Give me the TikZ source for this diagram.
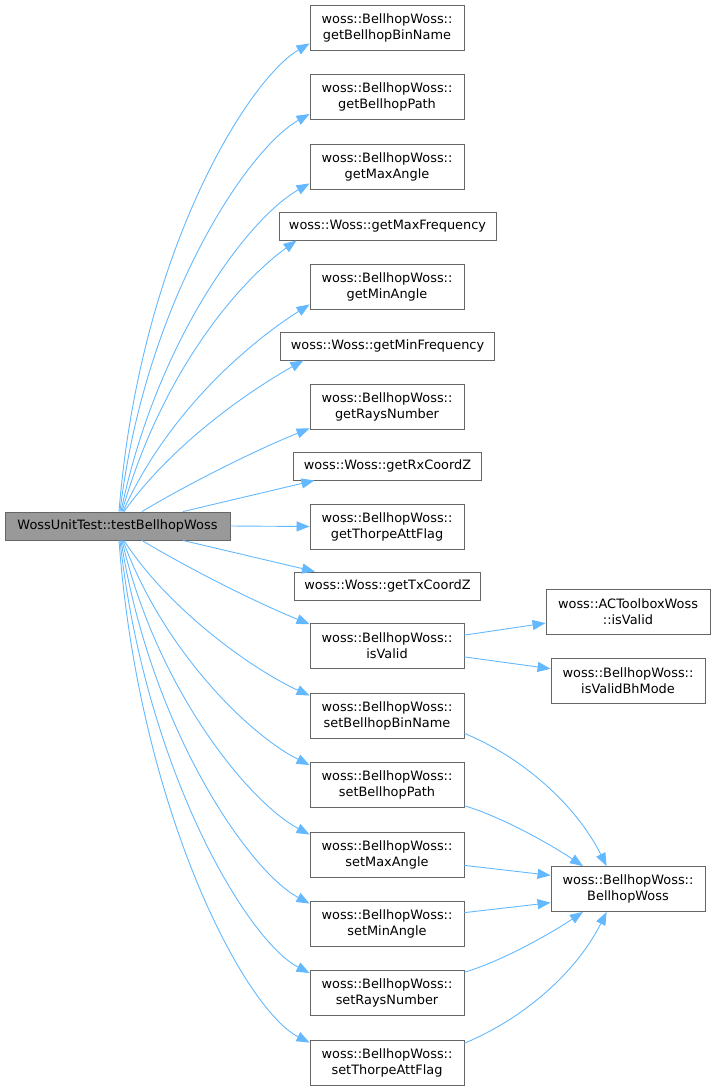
\documentclass[tikz,border=0pt]{standalone}
\usepackage{fontspec}
\setmainfont{DejaVu Sans}
\usepackage{tikz}
\usetikzlibrary{arrows.meta,calc}
\definecolor{edgeblue}{HTML}{63B8FF}
\definecolor{boxline}{HTML}{666666}
\definecolor{rootfill}{HTML}{999999}
\newcommand{\boxfont}{\fontsize{12.9pt}{16pt}\selectfont}
\tikzset{
  fn/.style={draw=boxline,fill=white,line width=0.9pt,align=center,font=\boxfont,
             inner xsep=10pt,inner ysep=2pt,minimum width=154pt,minimum height=45pt},
  fnone/.style={fn,minimum width=0pt,minimum height=28pt},
  rootfn/.style={fnone,fill=rootfill,minimum width=225pt},
  call/.style={draw=edgeblue,line width=0.9pt,-{Triangle[length=13pt,width=10pt]}}
}

\begin{document}
\begin{tikzpicture}[x=1pt,y=-1pt]
\useasboundingbox (0,0) rectangle (716,1090);

% caller
\node[rootfn] (root) at (117.5,526) {WossUnitTest::testBellhopWoss};

% callees
\node[fn] (n1) at (387,27.5) {woss::BellhopWoss::\\getBellhopBinName};
\node[fn] (n2) at (387,97) {woss::BellhopWoss::\\getBellhopPath};
\node[fn] (n3) at (387,166.5) {woss::BellhopWoss::\\getMaxAngle};
\node[fnone] (n4) at (387.5,226) {woss::Woss::getMaxFrequency};
\node[fn] (n5) at (387,286.5) {woss::BellhopWoss::\\getMinAngle};
\node[fnone] (n6) at (387.5,346) {woss::Woss::getMinFrequency};
\node[fn] (n7) at (387,406.5) {woss::BellhopWoss::\\getRaysNumber};
\node[fnone] (n8) at (387.5,466) {woss::Woss::getRxCoordZ};
\node[fn] (n9) at (387,526.5) {woss::BellhopWoss::\\getThorpeAttFlag};
\node[fnone] (n10) at (387.5,586) {woss::Woss::getTxCoordZ};
\node[fn] (n11) at (387,646) {woss::BellhopWoss::\\isValid};
\node[fn] (n12) at (387,715.5) {woss::BellhopWoss::\\setBellhopBinName};
\node[fn] (n13) at (387,785) {woss::BellhopWoss::\\setBellhopPath};
\node[fn] (n14) at (387,854.5) {woss::BellhopWoss::\\setMaxAngle};
\node[fn] (n15) at (387,923.5) {woss::BellhopWoss::\\setMinAngle};
\node[fn] (n16) at (387,993) {woss::BellhopWoss::\\setRaysNumber};
\node[fn] (n17) at (387,1062.5) {woss::BellhopWoss::\\setThorpeAttFlag};

% third level
\node[fn,minimum width=164pt] (ac) at (628,611.5) {woss::ACToolboxWoss\\::isValid};
\node[fn] (bh) at (628,681) {woss::BellhopWoss::\\isValidBhMode};
\node[fn] (ctor) at (628,889) {woss::BellhopWoss::\\BellhopWoss};

% calls going up
\draw[call] ([xshift=1.5pt]root.north) .. controls +(21,-262) and +(-60,35) .. ([yshift=7pt]n1.south west);
\draw[call] ([xshift=2.5pt]root.north) .. controls +(25,-210) and +(-62,35) .. ([yshift=6pt]n2.south west);
\draw[call] ([xshift=3.5pt]root.north) .. controls +(35,-170) and +(-62,35) .. ([yshift=6pt]n3.south west);
\draw[call] ([xshift=4.5pt]root.north) .. controls +(40,-140) and +(-58,42) .. ([xshift=18pt]n4.south west);
\draw[call] ([xshift=5.5pt]root.north) .. controls +(45,-100) and +(-60,38) .. ([yshift=5pt]n5.south west);
\draw[call] ([xshift=6.5pt]root.north) .. controls +(50,-70) and +(-50,28) .. ([xshift=23pt]n6.south west);
\draw[call] ([xshift=24.5pt]root.north) .. controls +(50,-30) and +(-50,20) .. ([yshift=1pt]n7.south west);
\draw[call] ([xshift=65.5pt]root.north) -- ([xshift=21pt]n8.south west);
\draw[call] (root.east) -- (n9.west);

% calls going down
\draw[call] ([xshift=65.5pt]root.south) -- ([xshift=21pt]n10.north west);
\draw[call] ([xshift=24.5pt]root.south) .. controls +(50,30) and +(-50,-20) .. ([yshift=-1pt]n11.north west);
\draw[call] ([xshift=6.5pt]root.south) .. controls +(45,70) and +(-55,-25) .. ([yshift=-3pt]n12.north west);
\draw[call] ([xshift=5.5pt]root.south) .. controls +(40,110) and +(-60,-30) .. ([yshift=-3pt]n13.north west);
\draw[call] ([xshift=4.5pt]root.south) .. controls +(35,150) and +(-60,-32) .. ([yshift=-3pt]n14.north west);
\draw[call] ([xshift=3.5pt]root.south) .. controls +(30,190) and +(-60,-32) .. ([yshift=-3pt]n15.north west);
\draw[call] ([xshift=2.5pt]root.south) .. controls +(25,230) and +(-62,-32) .. ([yshift=-3pt]n16.north west);
\draw[call] ([xshift=1.5pt]root.south) .. controls +(20,270) and +(-65,-33) .. ([yshift=-3pt]n17.north west);

% isValid
\draw[call] (n11.8) -- (ac.188);
\draw[call] (n11.-8) -- (bh.171);

% constructor
\draw[call] (n12.-13) .. controls +(60,25) and +(-30,-60) .. (ctor.133);
\draw[call] (n13.-15) .. controls +(40,12) and +(-30,-20) .. (ctor.153);
\draw[call] (n14.-8) -- (ctor.170);
\draw[call] (n15.8) -- (ctor.190);
\draw[call] (n16.15) .. controls +(40,-12) and +(-30,20) .. (ctor.207);
\draw[call] (n17.14) .. controls +(60,-25) and +(-30,60) .. (ctor.227);
\end{tikzpicture}
\end{document}
